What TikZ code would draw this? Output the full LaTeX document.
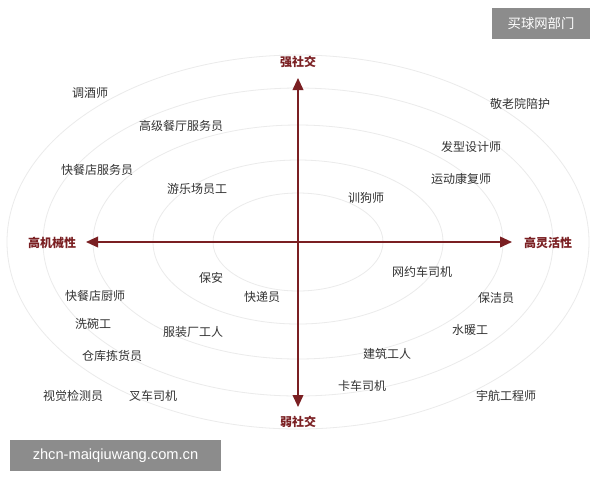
\documentclass[tikz,border=0pt]{standalone}
\usepackage{fontspec}
\setmainfont{Liberation Sans}
\newfontfamily\cjk{Noto Sans CJK SC}
\usetikzlibrary{arrows.meta}
\definecolor{axred}{HTML}{7A1F22}
\definecolor{txt}{HTML}{333333}
\tikzset{lbl/.style={font=\cjk\fontsize{9}{10}\selectfont,text=txt,inner sep=1pt},
axl/.style={font=\cjk\bfseries\fontsize{9}{10}\selectfont,text=axred,inner sep=1pt},
ring/.style={draw=black!8,line width=0.6pt},
ax/.style={draw=axred,line width=1.2pt,-{Triangle[length=9pt,width=8pt]}}}
\begin{document}
\begin{tikzpicture}[x=0.75pt,y=-0.75pt]
\useasboundingbox (0,0) rectangle (600,480);
\fill[white] (0,0) rectangle (600,480);
\foreach \a/\b in {291/187,255/154,205/117,145/82,85/49}
  \draw[ring] (298,242) ellipse [x radius=\a*0.75pt, y radius=\b*0.75pt];
\coordinate (c) at (298,242);
\coordinate (t) at (298,78);
\coordinate (b) at (298,407);
\coordinate (l) at (86,242);
\coordinate (r) at (512,242);
\draw[ax] (c) -- (t);
\draw[ax] (c) -- (b);
\draw[ax] (c) -- (l);
\draw[ax] (c) -- (r);
\node[axl] (nt) at (298,62) {强社交};
\node[axl] (nb) at (298,422) {弱社交};
\node[axl] (nl) at (52,243) {高机械性};
\node[axl] (nr) at (548,243) {高灵活性};
\node[lbl] (a1) at (90,93) {调酒师};
\node[lbl] (a2) at (181,126) {高级餐厅服务员};
\node[lbl] (a3) at (97,170) {快餐店服务员};
\node[lbl] (a4) at (197,189) {游乐场员工};
\node[lbl] (a5) at (520,104) {敬老院陪护};
\node[lbl] (a6) at (471,147) {发型设计师};
\node[lbl] (a7) at (461,179) {运动康复师};
\node[lbl] (a8) at (366,198) {训狗师};
\node[lbl] (a9) at (211,278) {保安};
\node[lbl] (a10) at (422,272) {网约车司机};
\node[lbl] (a11) at (95,296) {快餐店厨师};
\node[lbl] (a12) at (262,297) {快递员};
\node[lbl] (a13) at (496,298) {保洁员};
\node[lbl] (a14) at (93,324) {洗碗工};
\node[lbl] (a15) at (193,332) {服装厂工人};
\node[lbl] (a16) at (470,330) {水暖工};
\node[lbl] (a17) at (112,356) {仓库拣货员};
\node[lbl] (a18) at (387,354) {建筑工人};
\node[lbl] (a19) at (362,386) {卡车司机};
\node[lbl] (a20) at (73,396) {视觉检测员};
\node[lbl] (a21) at (153,396) {叉车司机};
\node[lbl] (a22) at (506,396) {宇航工程师};
\fill[black!45] (492,8) rectangle (590,39);
\node[font=\cjk\fontsize{10}{12}\selectfont,text=white] (w1) at (541,23.5) {买球网部门};
\fill[black!45] (10,440) rectangle (221,471);
\node[font=\fontsize{11}{13}\selectfont,text=white] (w2) at (115.5,455.5) {zhcn-maiqiuwang.com.cn};
\end{tikzpicture}
\end{document}
